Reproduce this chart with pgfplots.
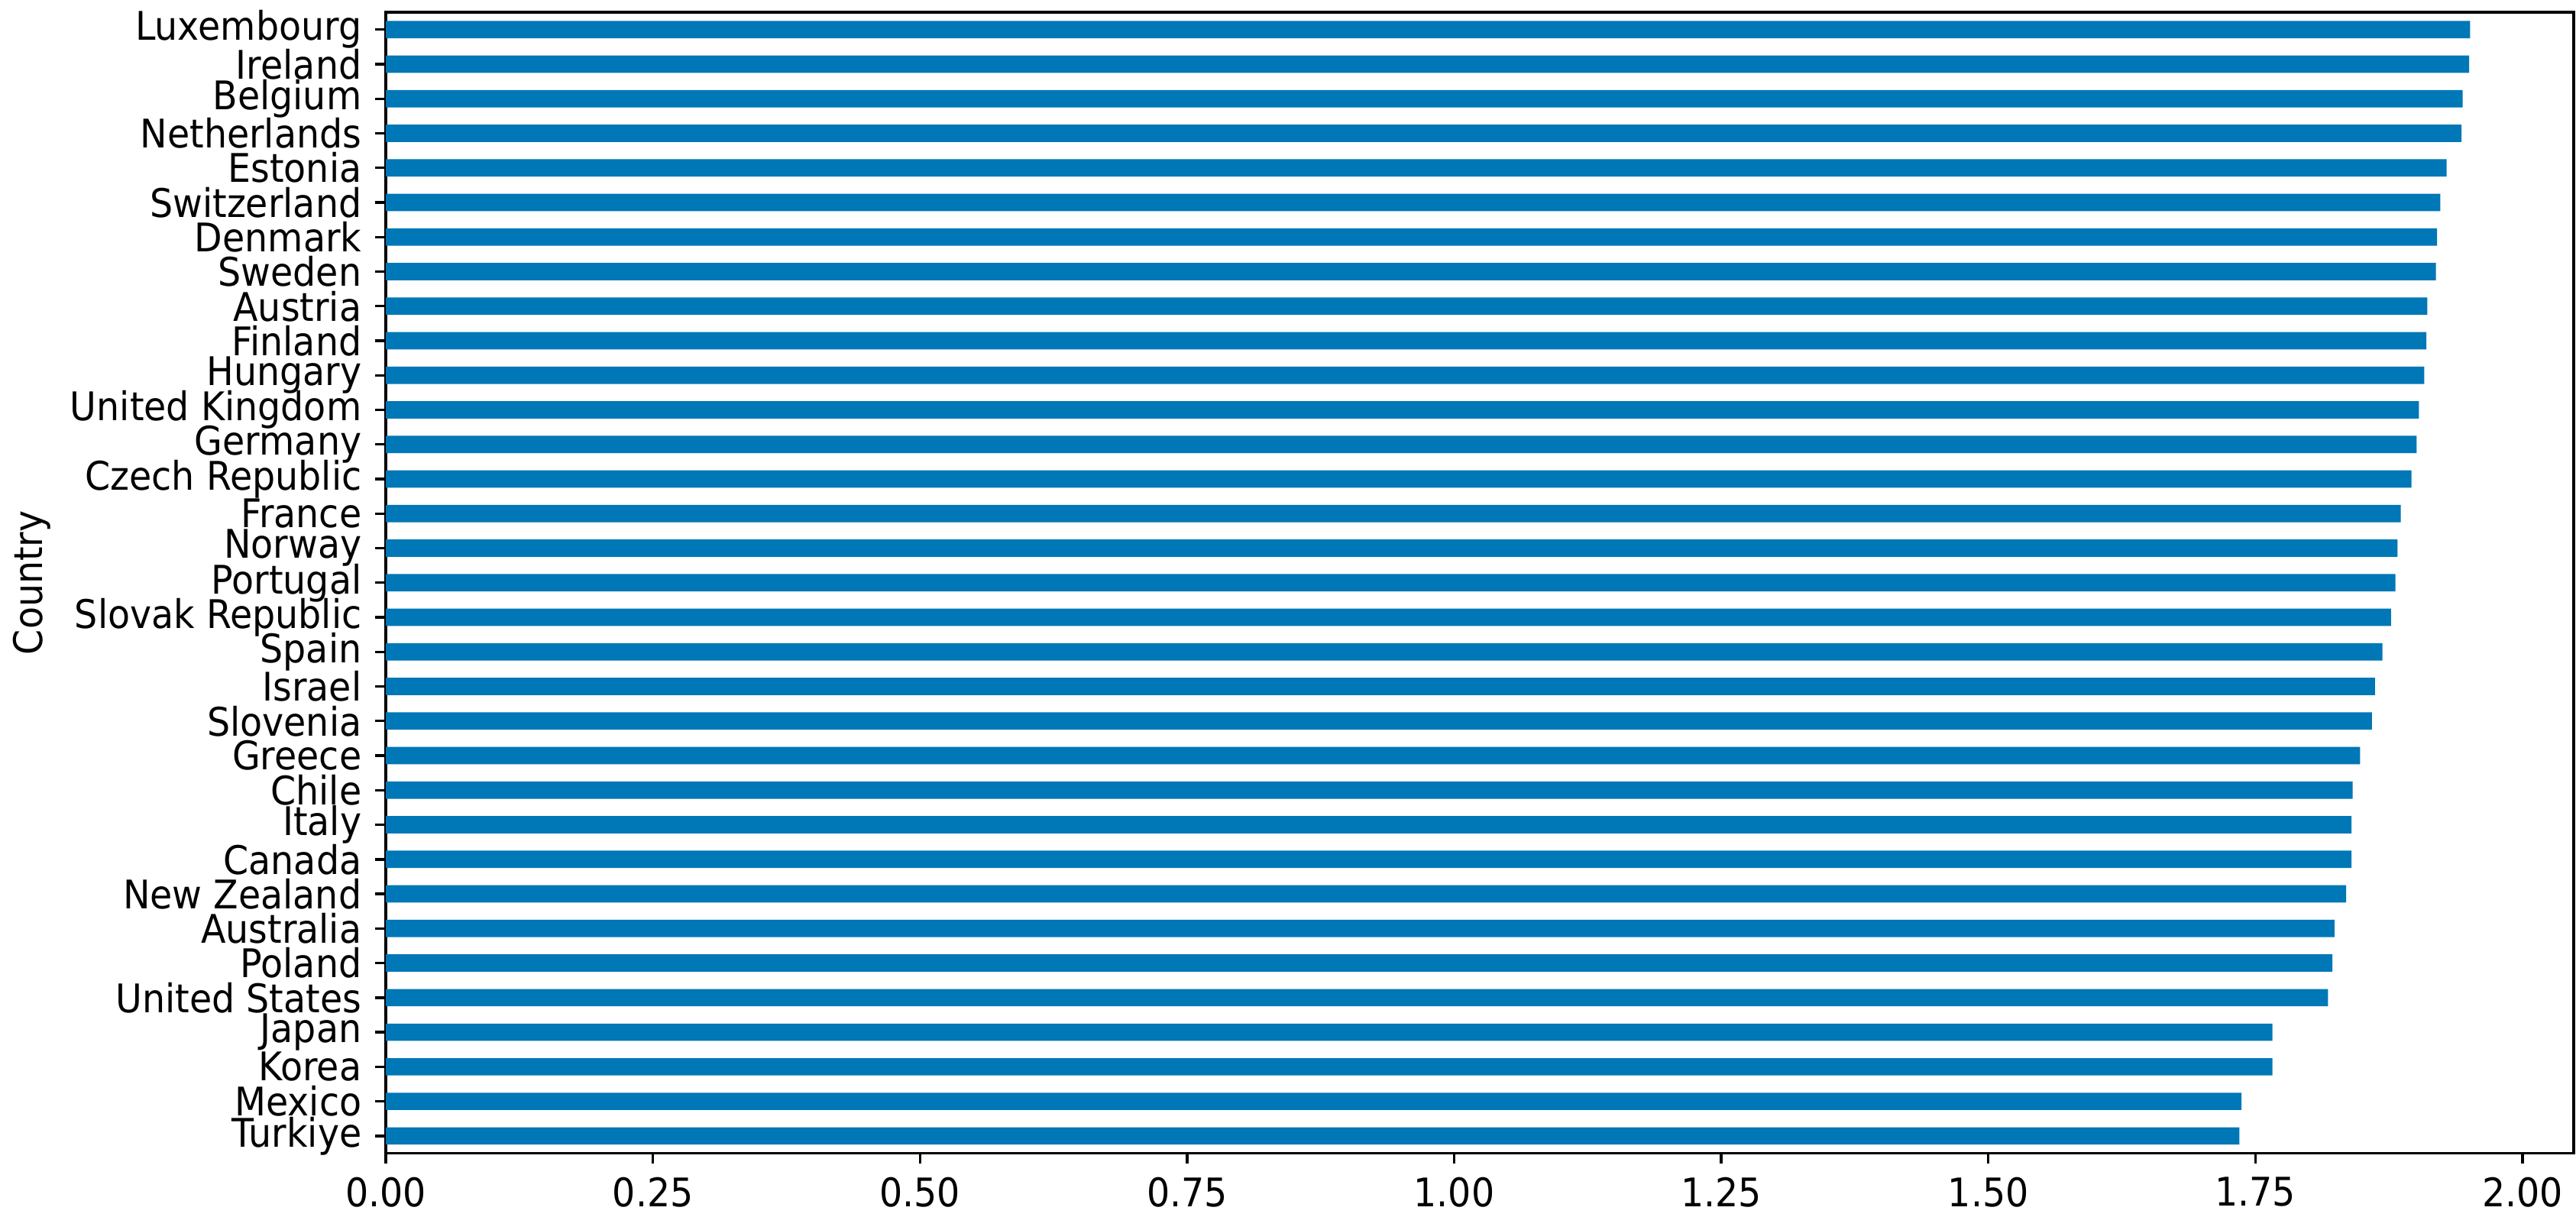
\documentclass[border=0pt]{standalone}
\usepackage{pgfplots}
\pgfplotsset{compat=1.18}
\usepackage{fontspec}
\setmainfont{DejaVu Sans}[FakeStretch=0.92]
\definecolor{barblue}{HTML}{0077B6}

\begin{document}
\fontsize{10.6}{12}\selectfont
\begin{tikzpicture}
\begin{axis}[
    scale only axis,
    width=587.8pt, height=306.5pt,
    xbar, bar width=0.5,
    y dir=reverse,
    xmin=0, xmax=2.048,
    ymin=-0.5, ymax=32.5,
    ytick={0,...,32},
    yticklabels={Luxembourg, Ireland, Belgium, Netherlands, Estonia, Switzerland, Denmark, Sweden, Austria, Finland, Hungary, United Kingdom, Germany, Czech Republic, France, Norway, Portugal, Slovak Republic, Spain, Israel, Slovenia, Greece, Chile, Italy, Canada, New Zealand, Australia, Poland, United States, Japan, Korea, Mexico, Turkiye},
    yticklabel style={inner ysep=0pt},
    xtick={0,0.25,...,2.0},
    xticklabel style={/pgf/number format/.cd, fixed, fixed zerofill, precision=2},
    /pgf/number format/assume math mode=true,
    ylabel={Country},
    tick align=outside,
    major tick length=2.8pt,
    tick style={black, line width=0.7pt},
    xtick pos=bottom, ytick pos=left,
    axis line style={line width=0.7pt},
    ylabel style={yshift=-2pt},
    clip=false,
    after end axis/.code={
        \path (rel axis cs:0,1) ++(0,3.3pt);
        \path (rel axis cs:0,0) ++(0,-20.5pt);
    },
]
% values
\addplot[fill=barblue, draw=none] coordinates {
    (1.951,0) (1.950,1) (1.944,2) (1.943,3) (1.929,4)
    (1.923,5) (1.920,6) (1.919,7) (1.911,8) (1.910,9)
    (1.908,10) (1.903,11) (1.901,12) (1.896,13) (1.886,14)
    (1.883,15) (1.881,16) (1.877,17) (1.869,18) (1.862,19)
    (1.859,20) (1.848,21) (1.841,22) (1.840,23) (1.840,24)
    (1.835,25) (1.824,26) (1.822,27) (1.818,28) (1.766,29)
    (1.766,30) (1.737,31) (1.735,32)
};
\end{axis}
\end{tikzpicture}
\end{document}
